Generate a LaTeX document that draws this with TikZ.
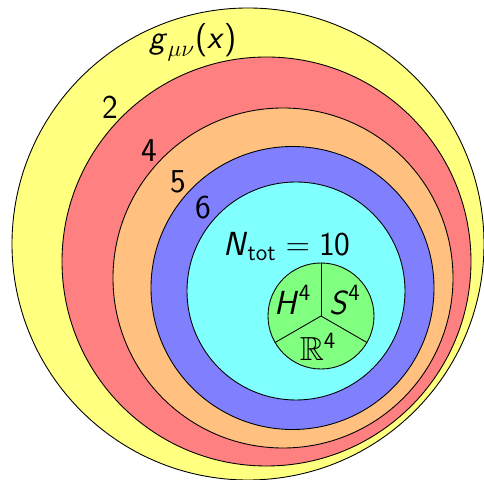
\documentclass[tikz,border=0pt]{standalone}
\usepackage{fix-cm}
\usepackage{amsmath}
\usepackage{amssymb}
\usepackage{tikz}

\definecolor{metricyellow}{RGB}{255,255,128}
\definecolor{ringred}{RGB}{255,128,128}
\definecolor{ringorange}{RGB}{255,192,128}
\definecolor{ringblue}{RGB}{128,128,255}
\definecolor{ringcyan}{RGB}{128,255,255}
\definecolor{ringgreen}{RGB}{128,255,128}

% slanted sans letter, as in the labels
\newcommand{\sfi}[1]{\textsf{\textit{#1}}}

\tikzset{
	disc/.style={draw=black, line width=0.5pt},
	lbl/.style={inner sep=0pt, font=\fontsize{19}{23}\selectfont\sffamily}
}

\begin{document}
\begin{tikzpicture}[x=0.02cm, y=0.02cm]
	\useasboundingbox (0,0) rectangle (484,480);
	% nested regions
	\filldraw[disc, fill=metricyellow] (248,236) circle (236);
	\filldraw[disc, fill=ringred] (266.5,218.5) circle (204.5);
	\filldraw[disc, fill=ringorange] (283,202) circle (170);
	\filldraw[disc, fill=ringblue] (292.5,192) circle (141.5);
	\filldraw[disc, fill=ringcyan] (296,189) circle (109);
	% the three maximally symmetric spaces
	\filldraw[disc, fill=ringgreen] (321,164) circle (53);
	\coordinate (mid) at (321,164);
	\draw[disc] (mid) -- ++(90:53);
	\draw[disc] (mid) -- ++(210:53);
	\draw[disc] (mid) -- ++(330:53);
	% labels
	\node[lbl] (metric) at (193,438) {$\sfi{g}_{\mu\nu}\textsf{(}\sfi{x}\textsf{)}$};
	\node[lbl] (two) at (110,373) {2};
	\node[lbl] (four) at (149,329) {4};
	\node[lbl] (five) at (178,298) {5};
	\node[lbl] (six) at (203,272) {6};
	\node[lbl] (ntot) at (287,233) {$\sfi{N}_{\textsf{tot}} = \textsf{10}$};
	\node[lbl] (hyp) at (293,180) {$\sfi{H}^{\textsf{4}}$};
	\node[lbl] (sph) at (345,180) {$\sfi{S}^{\textsf{4}}$};
	\node[lbl] (flat) at (318,133) {$\mathbb{R}^{\textsf{4}}$};
\end{tikzpicture}
\end{document}
